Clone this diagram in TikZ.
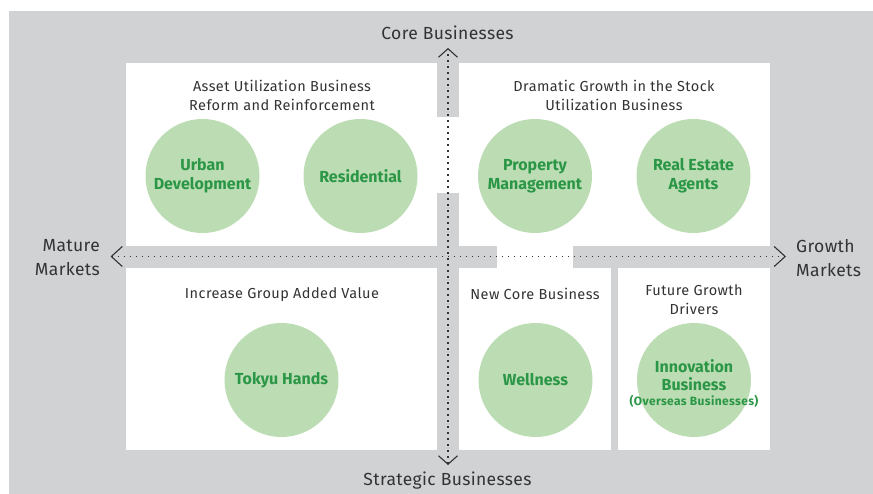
\documentclass[tikz,border=0pt]{standalone}
\usepackage{fontspec}
\setmainfont{Fira Sans}
\usetikzlibrary{arrows.meta}
\definecolor{bggray}{HTML}{D1D2D4}
\definecolor{circfill}{HTML}{BCDDB4}
\definecolor{greentext}{HTML}{2A9646}
\definecolor{darktext}{HTML}{333333}
\tikzset{
  paneltitle/.style={font=\fontsize{14.5}{19}\selectfont\addfontfeature{LetterSpace=3}, text=darktext, align=center, inner sep=0},
  biz/.style={circle, fill=circfill, minimum size=114pt, inner sep=0,
    font=\bfseries\fontsize{16}{19}\selectfont, text=greentext, align=center},
  axislabel/.style={font=\fontsize{17.5}{24}\selectfont\addfontfeature{LetterSpace=2}, text=darktext, inner sep=0},
  axisline/.style={draw=darktext, line width=1.5pt, dash pattern=on 1.5pt off 4.5pt},
  vtips/.style={arrows={Straight Barb[length=8.5pt,width=19pt,line width=1.1pt]-Straight Barb[length=8.5pt,width=19pt,line width=1.1pt]}},
  htips/.style={arrows={Straight Barb[length=11pt,width=20pt,line width=1.1pt]-Straight Barb[length=11pt,width=20pt,line width=1.1pt]}},
  bar/.style={fill=bggray, draw=none},
}
\begin{document}
\begin{tikzpicture}[x=1pt,y=-1pt]
\useasboundingbox (0,0) rectangle (873,494);
% background
\fill[bggray] (9,11) rectangle (873,494);
% white field
\fill[white] (126,63.5) rectangle (770,449.5);
% gray bars
\fill[bar] (437,63.5) rectangle (459,117);
\fill[bar] (437,193) rectangle (459,449.5);
\fill[bar] (126,246) rectangle (497,268);
\fill[bar] (573,246) rectangle (770,268);
\fill[bar] (611,268) rectangle (618,449.5);

% panel titles
\node[paneltitle] (t1) at (282,95.5) {Asset Utilization Business\\Reform and Reinforcement};
\node[paneltitle] (t2) at (614,95.5) {Dramatic Growth in the Stock\\Utilization Business};
\node[paneltitle] (t3) at (282,295) {Increase Group Added Value};
\node[paneltitle] (t4) at (535,294) {New Core Business};
\node[paneltitle] (t5) at (694,299.5) {Future Growth\\Drivers};

% business circles
\node[biz] (urban) at (202.5,176) {Urban\\Development};
\node[biz] (resi) at (360.5,176) {Residential};
\node[biz] (prop) at (535,176) {Property\\Management};
\node[biz] (real) at (693.5,176) {Real Estate\\Agents};
\node[biz] (tokyu) at (281.5,380) {Tokyu Hands};
\node[biz] (well) at (535.5,380) {Wellness};
\node[biz] (innov) at (694,380) {};
\node[font=\bfseries\fontsize{16}{18}\selectfont, text=greentext, align=center, inner sep=0]
  (innovt) at (694,375) {Innovation\\Business};
\node[font=\bfseries\fontsize{12}{13}\selectfont\addfontfeature{LetterSpace=3}, text=greentext, inner sep=0]
  (overs) at (694,401.5) {(Overseas Businesses)};

% axis labels
\node[axislabel] (core) at (447.5,33) {Core Businesses};
\node[axislabel] (strat) at (447.5,481) {Strategic Businesses};
\node[axislabel, align=right, anchor=east] (mature) at (100,258) {Mature\\Markets};
\node[axislabel, align=left, anchor=west] (growth) at (796,258) {Growth\\Markets};

% axes
\coordinate (vtop) at (448,48);
\coordinate (vbot) at (448,465);
\coordinate (hleft) at (110.5,256.5);
\coordinate (hright) at (786,256.5);
\draw[axisline, vtips] (vbot) -- (vtop);
\draw[axisline, htips] (hleft) -- (hright);
\end{tikzpicture}
\end{document}
